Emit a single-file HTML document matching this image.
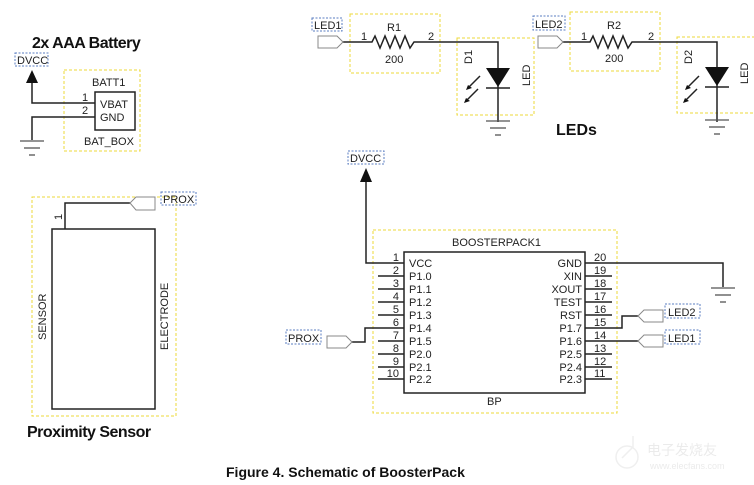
<!DOCTYPE html>
<html><head><meta charset="utf-8"><style>
html,body{margin:0;padding:0;background:#fff;}
svg{display:block;font-family:"Liberation Sans",Arial,sans-serif;}
</style></head><body>
<svg width="754" height="485" viewBox="0 0 754 485" xmlns="http://www.w3.org/2000/svg">
<defs>
<g id="gnd" stroke="#555" stroke-width="1.3"><line x1="-12" y1="0" x2="12" y2="0"/><line x1="-8" y1="7" x2="8" y2="7"/><line x1="-3" y1="14" x2="3" y2="14"/></g>
</defs>
<g fill="none" stroke="#ecd93a" stroke-width="1" stroke-dasharray="3,2">
<rect x="64" y="70" width="76" height="81"/>
<rect x="32" y="197" width="144" height="219"/>
<rect x="350" y="14" width="90" height="59"/>
<rect x="457" y="38" width="77" height="77"/>
<rect x="570" y="12" width="90" height="59"/>
<rect x="677" y="37" width="80" height="76"/>
<rect x="373" y="230" width="244" height="183"/>
</g>
<g fill="none" stroke="#5a7cc0" stroke-width="1" stroke-dasharray="2,1.5">
<rect x="15" y="53" width="33" height="13"/>
<rect x="348" y="151" width="36" height="13"/>
<rect x="161" y="192" width="35" height="13"/>
<rect x="312" y="18" width="30" height="13"/>
<rect x="533" y="16" width="32" height="14"/>
<rect x="286" y="330" width="35" height="14"/>
<rect x="665" y="304" width="35" height="14"/>
<rect x="665" y="330" width="35" height="14"/>
</g>
<g font-size="16" font-weight="bold" fill="#111">
<text x="32" y="48" letter-spacing="-0.5">2x AAA Battery</text>
<text x="556" y="135">LEDs</text>
<text x="27" y="437" letter-spacing="-0.5">Proximity Sensor</text>
</g>
<text x="226" y="477" font-size="14" font-weight="bold" fill="#111">Figure 4. Schematic of BoosterPack</text>
<g font-size="11" fill="#222">
<text x="17" y="64">DVCC</text><text x="350" y="162">DVCC</text>
<text x="163" y="203">PROX</text><text x="314" y="29">LED1</text><text x="535" y="28">LED2</text>
<text x="288" y="342">PROX</text><text x="668" y="316">LED2</text><text x="668" y="342">LED1</text>
</g>
<g stroke="#222" stroke-width="1.5" fill="none">
<polyline points="32,82 32,103 95,103"/><polyline points="95,117 32,117 32,140"/>
<rect x="95" y="92" width="40" height="38"/>
</g>
<polygon points="32,70 26,83 38,83" fill="#111"/>
<use href="#gnd" x="32" y="141"/>
<g font-size="11" fill="#222"><text x="92" y="86">BATT1</text><text x="100" y="108">VBAT</text><text x="100" y="121">GND</text><text x="84" y="145">BAT_BOX</text><text x="82" y="101">1</text><text x="82" y="114">2</text></g>
<g stroke="#222" stroke-width="1.5" fill="none">
<rect x="52" y="229" width="103" height="180"/>
<polyline points="65,229 65,203 130,203"/>
</g>
<polygon points="155,197 136,197 130,203 136,210 155,210" fill="#fff" stroke="#888"/>
<text x="0" y="0" font-size="11" fill="#222" transform="translate(62,220) rotate(-90)">1</text>
<text font-size="11" fill="#222" transform="translate(46,340) rotate(-90)">SENSOR</text>
<text font-size="11" fill="#222" transform="translate(168,350) rotate(-90)">ELECTRODE</text>
<g stroke="#222" stroke-width="1.5" fill="none">
<polyline points="343,42 372,42 375,36 380,48 385,36 390,48 395,36 400,48 405,36 410,48 414,42 498,42 498,122"/>
<line x1="486" y1="88" x2="510" y2="88"/>
<polyline points="563,42 590,42 593,36 598,48 603,36 608,48 613,36 618,48 623,36 628,48 632,42 717,42 717,122"/>
<line x1="705" y1="87" x2="729" y2="87"/>
<line x1="480" y1="76" x2="469" y2="87"/><line x1="478" y1="89" x2="467" y2="100"/>
<line x1="699" y1="76" x2="688" y2="87"/><line x1="697" y1="89" x2="686" y2="100"/>
</g>
<polygon points="486,68 510,68 498,87" fill="#111"/><polygon points="705,67 729,67 717,86" fill="#111"/>
<g fill="#111"><polygon points="466,90 472,88 468,85"/><polygon points="464,103 470,101 466,98"/><polygon points="685,90 691,88 687,85"/><polygon points="683,103 689,101 685,98"/></g>
<use href="#gnd" x="498" y="121"/><use href="#gnd" x="717" y="120"/>
<polygon points="318,36 337,36 343,42 337,48 318,48" fill="#fff" stroke="#888"/>
<polygon points="538,36 557,36 563,42 557,48 538,48" fill="#fff" stroke="#888"/>
<g font-size="11" fill="#222"><text x="387" y="31">R1</text><text x="385" y="63">200</text><text x="361" y="40">1</text><text x="428" y="40">2</text>
<text x="607" y="29">R2</text><text x="605" y="62">200</text><text x="581" y="40">1</text><text x="648" y="40">2</text>
<text transform="translate(472,64) rotate(-90)">D1</text><text transform="translate(530,86) rotate(-90)">LED</text>
<text transform="translate(692,64) rotate(-90)">D2</text><text transform="translate(748,84) rotate(-90)">LED</text></g>
<g stroke="#222" stroke-width="1.5" fill="none">
<polyline points="366,181 366,263 378,263"/>
<rect x="404" y="252" width="181" height="141"/>
<polyline points="612,263 723,263 723,287"/>
<polyline points="612,328 622,328 622,316 638,316"/>
<line x1="612" y1="341" x2="638" y2="341"/>
<polyline points="352,342 365,342 365,328 378,328"/>
<line x1="378" y1="263" x2="404" y2="263"/><line x1="378" y1="276" x2="404" y2="276"/><line x1="378" y1="289" x2="404" y2="289"/><line x1="378" y1="302" x2="404" y2="302"/><line x1="378" y1="315" x2="404" y2="315"/><line x1="378" y1="328" x2="404" y2="328"/><line x1="378" y1="341" x2="404" y2="341"/><line x1="378" y1="354" x2="404" y2="354"/><line x1="378" y1="367" x2="404" y2="367"/><line x1="378" y1="379" x2="404" y2="379"/>
<line x1="585" y1="263" x2="612" y2="263"/><line x1="585" y1="276" x2="612" y2="276"/><line x1="585" y1="289" x2="612" y2="289"/><line x1="585" y1="302" x2="612" y2="302"/><line x1="585" y1="315" x2="612" y2="315"/><line x1="585" y1="328" x2="612" y2="328"/><line x1="585" y1="341" x2="612" y2="341"/><line x1="585" y1="354" x2="612" y2="354"/><line x1="585" y1="367" x2="612" y2="367"/><line x1="585" y1="379" x2="612" y2="379"/>
</g>
<polygon points="366,168 360,182 372,182" fill="#111"/>
<use href="#gnd" x="723" y="288"/>
<polygon points="327,336 346,336 352,342 346,348 327,348" fill="#fff" stroke="#888"/>
<polygon points="663,310 644,310 638,316 644,322 663,322" fill="#fff" stroke="#888"/>
<polygon points="663,335 644,335 638,341 644,347 663,347" fill="#fff" stroke="#888"/>
<g font-size="11" fill="#222">
<text x="452" y="246">BOOSTERPACK1</text><text x="487" y="405">BP</text>
<g text-anchor="end"><text x="399" y="261">1</text><text x="399" y="274">2</text><text x="399" y="287">3</text><text x="399" y="300">4</text><text x="399" y="313">5</text><text x="399" y="326">6</text><text x="399" y="339">7</text><text x="399" y="352">8</text><text x="399" y="365">9</text><text x="399" y="377">10</text>
<text x="582" y="267">GND</text><text x="582" y="280">XIN</text><text x="582" y="293">XOUT</text><text x="582" y="306">TEST</text><text x="582" y="319">RST</text><text x="582" y="332">P1.7</text><text x="582" y="345">P1.6</text><text x="582" y="358">P2.5</text><text x="582" y="371">P2.4</text><text x="582" y="383">P2.3</text></g>
<text x="409" y="267">VCC</text><text x="409" y="280">P1.0</text><text x="409" y="293">P1.1</text><text x="409" y="306">P1.2</text><text x="409" y="319">P1.3</text><text x="409" y="332">P1.4</text><text x="409" y="345">P1.5</text><text x="409" y="358">P2.0</text><text x="409" y="371">P2.1</text><text x="409" y="383">P2.2</text>
<text x="594" y="261">20</text><text x="594" y="274">19</text><text x="594" y="287">18</text><text x="594" y="300">17</text><text x="594" y="313">16</text><text x="594" y="326">15</text><text x="594" y="339">14</text><text x="594" y="352">13</text><text x="594" y="365">12</text><text x="594" y="377">11</text>
</g>
<g fill="#ebebeb"><text x="647" y="455" font-size="14" font-family="'Noto Sans CJK SC',sans-serif">电子发烧友</text><text x="650" y="469" font-size="9">www.elecfans.com</text></g>
<circle cx="627" cy="457" r="11" fill="none" stroke="#efefef" stroke-width="1.5"/>
<path d="M633,436 L633,447 L622,458" fill="none" stroke="#efefef" stroke-width="1.5"/>
</svg>
</body></html>
